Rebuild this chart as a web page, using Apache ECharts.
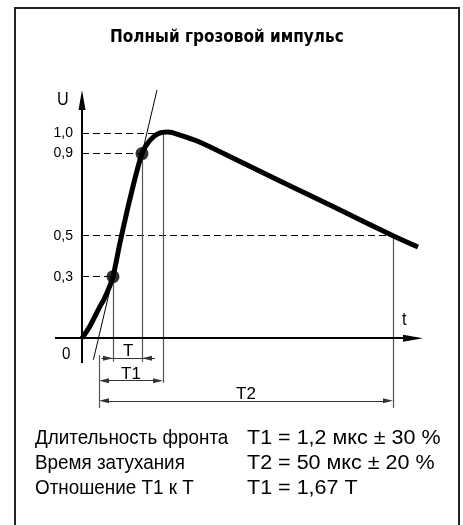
<!DOCTYPE html>
<html>
<head>
<meta charset="utf-8">
<title>Полный грозовой импульс</title>
<script src="https://cdn.jsdelivr.net/npm/echarts@6/dist/echarts.min.js"></script>
<style>
  html, body { margin: 0; padding: 0; background: #fff; }
  #main { width: 463px; height: 525px; }
</style>
</head>
<body>
<div id="main"></div>
<script>
// impulse curve (t in drawing units, U relative)
var curveT = [0, 0.8, 1.8, 2.2, 2.7, 3.1, 3.8, 4.8, 6.0, 6.8, 7.6, 8.6, 9.8, 11.8, 15.8, 20, 25, 31.1, 33.6];
var curveU = [0, 0.06, 0.155, 0.19, 0.245, 0.3, 0.465, 0.68, 0.9, 0.965, 0.997, 1.005, 0.99, 0.955, 0.861, 0.762, 0.644, 0.5, 0.445];

// marked points on the front
var dotT = [3.1, 6.0];
var dotU = [0.3, 0.9];

// reference levels and where their dashed lines stop
var levelU = [0.3, 0.5, 0.9, 1.0];
var levelT = [3.1, 31.1, 6.0, 8.1];
var tickLabels = ['0,3', '0,5', '0,9', '1,0'];

// tangent through the 0,3 and 0,9 points
var tangentT = [1.14, 7.5];
var tangentU = [-0.105, 1.21];

// witness lines: t, top U, bottom U
var witnessT = [3.1, 6.0, 8.1, 1.7, 31.1];
var witnessTop = [0.3, 0.9, 1.0, -0.082, 0.5];
var witnessBottom = [-0.115, -0.115, -0.218, -0.34, -0.34];

// dimension lines
var dimNames = ['T', 'T1', 'T2'];
var dimFrom = [3.1, 1.7, 1.7];
var dimTo = [6.0, 8.1, 31.1];
var dimU = [-0.098, -0.207, -0.305];

var infoLabels = ['Длительность фронта', 'Время затухания', 'Отношение T1 к T'];
var infoValues = ['T1 = 1,2 мкс ± 30 %', 'T2 = 50 мкс ± 20 %', 'T1 = 1,67 T'];

var NARROW = '"Liberation Sans Narrow", "DejaVu Sans Condensed", sans-serif';
var SANS = '"Liberation Sans", Arial, sans-serif';

// axis extents
var xMin = -2.7, xMax = 34.1, yMin = -0.35, yMax = 1.21;
var gridL = 55, gridR = 40, gridT = 90, gridB = 115;
var pxX = (463 - gridL - gridR) / (xMax - xMin);
var pxY = (525 - gridT - gridB) / (yMax - yMin);

var arrowDim = [5, 10];   // dimension arrow heads
var arrowAxis = [7, 20];  // axis arrow heads
var hd = arrowDim[1] / 2 / pxX;

var curveData = curveT.map(function (t, i) { return [t, curveU[i]]; });
var dotData = dotT.map(function (t, i) { return [t, dotU[i]]; });

var dashedData = levelU.map(function (u, i) {
    return { coords: [[0, u], [levelT[i], u]] };
});
var witnessData = witnessT.map(function (t, i) {
    return { coords: [[t, witnessTop[i]], [t, witnessBottom[i]]] };
});

// T has inward arrows drawn from outside, T1/T2 outward arrows
var dimLines = [];
var dimArrows = [];
dimLines.push({
    name: dimNames[0],
    coords: [[dimFrom[0] - 1.15, dimU[0]], [dimTo[0] + 1.3, dimU[0]]],
    symbol: ['none', 'none']
});
dimArrows.push({ coords: [[dimFrom[0] - 2 * hd, dimU[0]], [dimFrom[0] - hd, dimU[0]]] });
dimArrows.push({ coords: [[dimTo[0] + 2 * hd, dimU[0]], [dimTo[0] + hd, dimU[0]]] });
for (var i = 1; i < dimNames.length; i++) {
    dimLines.push({
        name: dimNames[i],
        coords: [[dimFrom[i] + hd, dimU[i]], [dimTo[i] - hd, dimU[i]]],
        symbol: ['triangle', 'triangle']
    });
}

var axesData = [
    { coords: [[xMin, 0], [xMax - arrowAxis[1] / 2 / pxX, 0]] },
    { coords: [[0, -0.121], [0, yMax - arrowAxis[1] / 2 / pxY]] }
];

function txt(s, x, y, size, sx) {
    return {
        type: 'text', x: x, y: y, scaleX: sx || 1, silent: true,
        style: { text: s, font: size + 'px ' + SANS, fill: '#000', textVerticalAlign: 'middle' }
    };
}

var graphics = [
    {
        type: 'rect',
        shape: { x: 15, y: 8, width: 444, height: 580 },
        style: { fill: 'none', stroke: '#222', lineWidth: 2 },
        silent: true
    },
    txt('U', 57, 100, 18, 0.9),
    txt('t', 402, 320, 18, 0.9),
    txt('0', 62, 355, 16, 0.95)
];
infoLabels.forEach(function (s, i) {
    graphics.push(txt(s, 35, 438 + i * 25, 20.5, 0.92));
    graphics.push(txt(infoValues[i], 247, 438 + i * 25, 20.5, 1.05));
});

var chart = echarts.init(document.getElementById('main'));
var option = {
    animation: false,
    backgroundColor: '#fff',
    title: {
        text: 'Полный грозовой импульс',
        left: 105,
        top: 24,
        textStyle: { fontFamily: NARROW, fontWeight: 'bold', fontSize: 17, color: '#000' }
    },
    grid: { left: gridL, right: gridR, top: gridT, bottom: gridB },
    xAxis: {
        type: 'value', min: xMin, max: xMax,
        axisLine: { show: false, onZero: false },
        axisTick: { show: false }, axisLabel: { show: false }, splitLine: { show: false }
    },
    yAxis: {
        type: 'value', min: yMin, max: yMax,
        axisLine: { show: false, onZero: false },
        axisTick: { show: false }, splitLine: { show: false },
        axisLabel: {
            customValues: levelU,
            margin: -18,
            color: '#000',
            fontFamily: SANS,
            fontSize: 14,
            formatter: function (v) { return tickLabels[levelU.indexOf(v)]; }
        }
    },
    graphic: graphics,
    series: [
        {
            type: 'lines', coordinateSystem: 'cartesian2d', clip: false, silent: true, z: 1,
            lineStyle: { color: '#000', width: 1, type: [7, 4], opacity: 1 },
            data: dashedData
        },
        {
            type: 'lines', coordinateSystem: 'cartesian2d', clip: false, silent: true, z: 1,
            lineStyle: { color: '#555', width: 1.2, opacity: 1 },
            data: witnessData
        },
        {
            type: 'lines', coordinateSystem: 'cartesian2d', clip: false, silent: true, z: 2,
            lineStyle: { color: '#000', width: 1, opacity: 1 },
            data: [{ coords: [[tangentT[0], tangentU[0]], [tangentT[1], tangentU[1]]] }]
        },
        {
            type: 'lines', coordinateSystem: 'cartesian2d', clip: false, silent: true, z: 2,
            lineStyle: { color: '#333', width: 1.2, opacity: 1 },
            symbol: ['triangle', 'triangle'],
            symbolSize: [arrowDim, arrowDim],
            label: {
                show: true, position: 'middle', distance: -2, formatter: '{b}',
                color: '#000', fontFamily: SANS, fontSize: 17
            },
            data: dimLines
        },
        {
            type: 'lines', coordinateSystem: 'cartesian2d', clip: false, silent: true, z: 2,
            lineStyle: { color: '#333', width: 1.2, opacity: 1 },
            symbol: ['none', 'triangle'],
            symbolSize: [arrowDim, arrowDim],
            data: dimArrows
        },
        {
            type: 'lines', coordinateSystem: 'cartesian2d', clip: false, silent: true, z: 3,
            lineStyle: { color: '#000', width: 2, opacity: 1 },
            symbol: ['none', 'triangle'],
            symbolSize: [arrowAxis, arrowAxis],
            data: axesData
        },
        {
            type: 'line', smooth: 0.3, showSymbol: false, silent: true, z: 4,
            lineStyle: { color: '#000', width: 5 },
            data: curveData
        },
        {
            type: 'scatter', silent: true, z: 5,
            symbolSize: 13,
            itemStyle: { color: '#000' },
            data: dotData
        }
    ]
};
chart.setOption(option);
</script>
</body>
</html>
